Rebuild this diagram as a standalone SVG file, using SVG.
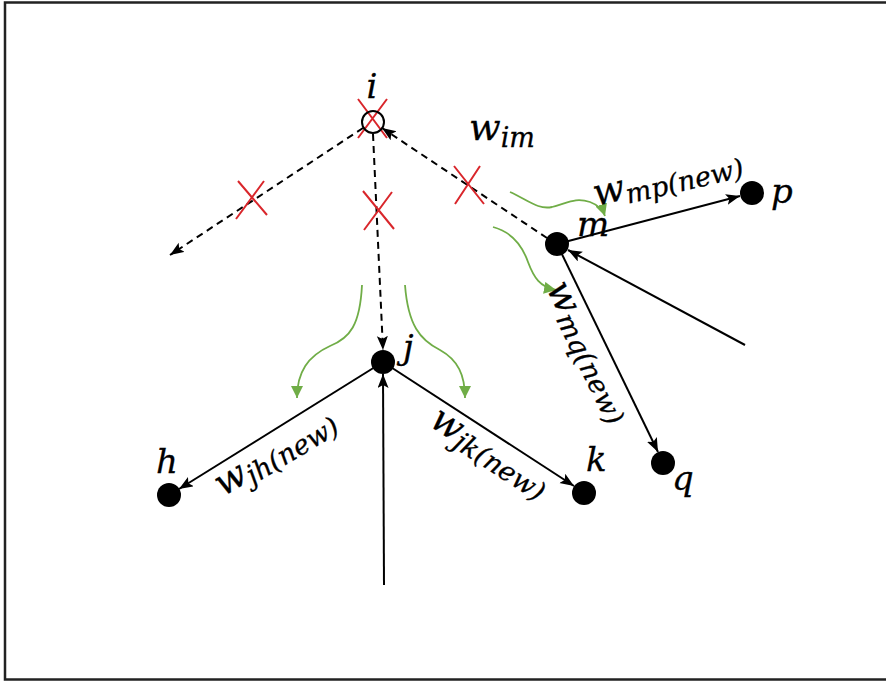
<svg xmlns="http://www.w3.org/2000/svg" width="886" height="681" viewBox="0 0 886 681">
  <style>
    .lbl { font-family: "DejaVu Serif", "Liberation Serif", serif; font-style: italic; fill: #000; stroke: #000; stroke-width: 0.3; }
    .node { font-size: 34px; }
    .w { font-size: 37px; }
    .s { font-size: 27px; }
    .edge { stroke: #000; stroke-width: 2; fill: none; }
    .dash { stroke-dasharray: 7 5; }
    .cross { stroke: #D9262B; stroke-width: 2; fill: none; }
    .flow { stroke: #70AD47; stroke-width: 1.8; fill: none; }
  </style>
  <defs>
    <marker id="arrow" markerUnits="userSpaceOnUse" markerWidth="15" markerHeight="12" refX="14" refY="5.5" orient="auto">
      <path d="M0,0 L14,5.5 L0,11 L3,5.5 Z" fill="#000"/>
    </marker>
    <marker id="garrow" markerUnits="userSpaceOnUse" markerWidth="14" markerHeight="12" refX="12" refY="6" orient="auto">
      <path d="M0,0 L12,6 L0,12 Z" fill="#70AD47"/>
    </marker>
  </defs>

  <rect width="886" height="681" fill="#fff"/>
  <!-- frame: open on the right -->
  <path d="M888,2.5 H5 V679.5 H888" fill="none" stroke="#222" stroke-width="2.5"/>

  <!-- connectors -->
  <g id="connectors">
    <!-- removed links (dashed) -->
    <line class="edge dash" x1="363" y1="128" x2="170" y2="255" marker-end="url(#arrow)"/>
    <line class="edge dash" x1="373" y1="134" x2="383" y2="350" marker-end="url(#arrow)"/>
    <line class="edge dash" x1="547" y1="238" x2="382" y2="128" marker-end="url(#arrow)"/>
    <!-- new links -->
    <line class="edge" x1="383" y1="362" x2="179" y2="489" marker-end="url(#arrow)"/>
    <line class="edge" x1="383" y1="362" x2="574" y2="486" marker-end="url(#arrow)"/>
    <line class="edge" x1="384" y1="585" x2="383" y2="374" marker-end="url(#arrow)"/>
    <line class="edge" x1="557" y1="244" x2="740" y2="196" marker-end="url(#arrow)"/>
    <line class="edge" x1="557" y1="244" x2="658" y2="452" marker-end="url(#arrow)"/>
    <line class="edge" x1="745" y1="345" x2="568" y2="250" marker-end="url(#arrow)"/>

    <!-- cut marks -->
    <path class="cross" d="M358,99 L387,138 M387,99 L358,138"/>
    <path class="cross" d="M238,181 L267,215 M264,181 L236,219"/>
    <path class="cross" d="M363,191 L394,229 M392,192 L364,230"/>
    <path class="cross" d="M454,166 L484,204 M480,166 L455,204"/>

    <!-- redistribution arrows -->
    <path class="flow" d="M362,285 C360,325 350,338 330,346 C308,356 297,372 297,398" marker-end="url(#garrow)"/>
    <path class="flow" d="M405,285 C408,325 420,340 440,350 C458,360 465,375 465,398" marker-end="url(#garrow)"/>
    <path class="flow" d="M510,192 C528,200 538,210 552,207 C568,203 575,197 590,202 C598,205 603,210 605,216" marker-end="url(#garrow)"/>
    <path class="flow" d="M493,227 C512,232 522,245 528,262 C534,278 540,287 556,290" marker-end="url(#garrow)"/>

    <!-- weight labels -->
    <text class="lbl" x="469" y="140"><tspan class="w">w</tspan><tspan class="s" dy="7">im</tspan></text>
    <text class="lbl" transform="translate(596,206) rotate(-13)"><tspan class="w">w</tspan><tspan class="s" dy="5">mp(new)</tspan></text>
    <text class="lbl" transform="translate(546,288) rotate(64)"><tspan class="w">w</tspan><tspan class="s" dy="5">mq(new)</tspan></text>
    <text class="lbl" transform="translate(223,497) rotate(-31)"><tspan class="w">w</tspan><tspan class="s" dy="5">jh(new)</tspan></text>
    <text class="lbl" transform="translate(428,425) rotate(33)"><tspan class="w">w</tspan><tspan class="s" dy="5">jk(new)</tspan></text>
  </g>

  <!-- nodes -->
  <g id="node-i">
    <circle cx="373" cy="122" r="11" fill="none" stroke="#000" stroke-width="2"/>
    <text class="lbl node" x="372" y="98" text-anchor="middle">i</text>
  </g>
  <g id="node-j">
    <circle cx="383" cy="362" r="12" fill="#000"/>
    <text class="lbl node" x="403" y="359">j</text>
  </g>
  <g id="node-h">
    <circle cx="169" cy="495" r="12" fill="#000"/>
    <text class="lbl node" x="156" y="473">h</text>
  </g>
  <g id="node-k">
    <circle cx="584" cy="493" r="12" fill="#000"/>
    <text class="lbl node" x="586" y="471">k</text>
  </g>
  <g id="node-m">
    <circle cx="557" cy="244" r="12" fill="#000"/>
    <text class="lbl node" x="577" y="236">m</text>
  </g>
  <g id="node-p">
    <circle cx="752" cy="193" r="12" fill="#000"/>
    <text class="lbl node" x="771" y="203">p</text>
  </g>
  <g id="node-q">
    <circle cx="663" cy="463" r="12" fill="#000"/>
    <text class="lbl node" x="672" y="490">q</text>
  </g>
</svg>
